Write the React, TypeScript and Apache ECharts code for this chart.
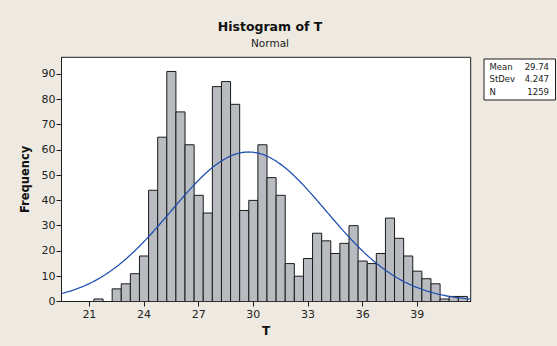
import React, { useEffect, useRef } from "react";
import * as echarts from "echarts";

// Bin midpoints of T (bin width 0.5) and their frequencies
const binMid = [
  21.5, 22, 22.5, 23, 23.5, 24, 24.5, 25, 25.5, 26, 26.5, 27, 27.5, 28, 28.5,
  29, 29.5, 30, 30.5, 31, 31.5, 32, 32.5, 33, 33.5, 34, 34.5, 35, 35.5, 36,
  36.5, 37, 37.5, 38, 38.5, 39, 39.5, 40, 40.5, 41, 41.5,
];
const freq = [
  1, 0, 5, 7, 11, 18, 44, 65, 91, 75, 62, 42, 35, 85, 87,
  78, 36, 40, 62, 49, 42, 15, 10, 17, 27, 24, 19, 23, 30, 16,
  15, 19, 33, 25, 18, 12, 9, 7, 1, 2, 2,
];
const binWidth = 0.5;

// Summary statistics of the sample
const statNames = ["Mean", "StDev", "N"];
const statTexts = ["29.74", "4.247", "1259"];
const mean = 29.74;
const stdev = 4.247;
const count = 1259;

// Axis ranges and tick labels
const xMin = 19.47;
const xMax = 41.93;
const xTicks = [21, 24, 27, 30, 33, 36, 39];
const yMax = 96.6;
const yTicks = [0, 10, 20, 30, 40, 50, 60, 70, 80, 90];

// Fitted normal curve scaled to the histogram's counts
function normalCurve(): number[][] {
  const pts: number[][] = [];
  const scale = (count * binWidth) / (stdev * Math.sqrt(2 * Math.PI));
  const steps = 300;
  for (let i = 0; i <= steps; i++) {
    const x = xMin + ((xMax - xMin) * i) / steps;
    const z = (x - mean) / stdev;
    pts.push([x, scale * Math.exp(-0.5 * z * z)]);
  }
  return pts;
}

const FONT = "DejaVu Sans";

export default function App() {
  const ref = useRef<HTMLDivElement>(null);

  useEffect(() => {
    if (!ref.current) return;
    const chart = echarts.init(ref.current, undefined, { renderer: "svg" });

    const bars = binMid
      .map((m, i) => [m, freq[i]])
      .filter((d) => d[1] > 0);

    chart.setOption({
      animation: false,
      backgroundColor: "#efeae1",
      title: {
        text: "Histogram of T",
        subtext: "Normal",
        left: 265,
        top: 15,
        textAlign: "center",
        itemGap: 4,
        textStyle: { fontFamily: FONT, fontSize: 12.5, fontWeight: "bold", color: "#111" },
        subtextStyle: { fontFamily: FONT, fontSize: 10.5, color: "#222" },
      },
      grid: {
        left: 61.5,
        right: 86.3,
        top: 57.3,
        bottom: 44.5,
        show: true,
        backgroundColor: "#ffffff",
        borderColor: "#1e1e1e",
        borderWidth: 1,
      },
      xAxis: {
        type: "value",
        min: xMin,
        max: xMax,
        name: "T",
        nameLocation: "middle",
        nameGap: 23,
        nameTextStyle: { fontFamily: FONT, fontSize: 12, fontWeight: "bold", color: "#111" },
        axisLine: { show: true, lineStyle: { color: "#1e1e1e", width: 1 } },
        axisTick: { show: true, length: 5, customValues: xTicks, lineStyle: { color: "#1e1e1e" } },
        axisLabel: {
          customValues: xTicks,
          margin: 7,
          fontFamily: FONT,
          fontSize: 11,
          color: "#222",
        },
        splitLine: { show: false },
      },
      yAxis: {
        type: "value",
        min: 0,
        max: yMax,
        name: "Frequency",
        nameLocation: "middle",
        nameGap: 31,
        nameTextStyle: { fontFamily: FONT, fontSize: 11.5, fontWeight: "bold", color: "#111" },
        axisLine: { show: true, lineStyle: { color: "#1e1e1e", width: 1 } },
        axisTick: { show: true, length: 5, customValues: yTicks, lineStyle: { color: "#1e1e1e" } },
        axisLabel: {
          customValues: yTicks,
          margin: 6,
          fontFamily: FONT,
          fontSize: 11,
          color: "#222",
        },
        splitLine: { show: false },
      },
      series: [
        {
          type: "custom",
          data: bars,
          encode: { x: 0, y: 1 },
          clip: true,
          z: 2,
          renderItem: (_params: any, api: any) => {
            const mid = api.value(0);
            const n = api.value(1);
            const p0 = api.coord([mid - binWidth / 2, n]);
            const p1 = api.coord([mid + binWidth / 2, 0]);
            return {
              type: "rect",
              shape: { x: p0[0], y: p0[1], width: p1[0] - p0[0], height: p1[1] - p0[1] },
              style: { fill: "#b8bcc1", stroke: "#1a1a1a", lineWidth: 1 },
            };
          },
        },
        {
          type: "line",
          data: normalCurve(),
          showSymbol: false,
          smooth: false,
          clip: true,
          z: 3,
          lineStyle: { color: "#1f50b0", width: 1.3 },
        },
      ],
      graphic: [
        {
          type: "group",
          left: 483.5,
          top: 58.5,
          children: [
            {
              type: "rect",
              shape: { x: 0, y: 0, width: 71.5, height: 41 },
              style: { fill: "#ffffff", stroke: "#1e1e1e", lineWidth: 1 },
            },
            ...statNames.map((s, i) => ({
              type: "text",
              x: 5.5,
              y: 7.5 + i * 12.8,
              style: {
                text: s,
                fontFamily: FONT,
                fontSize: 8.5,
                fill: "#222",
                textVerticalAlign: "middle",
              },
            })),
            ...statTexts.map((s, i) => ({
              type: "text",
              x: 65,
              y: 7.5 + i * 12.8,
              style: {
                text: s,
                fontFamily: FONT,
                fontSize: 8.5,
                fill: "#222",
                textAlign: "right",
                textVerticalAlign: "middle",
              },
            })),
          ],
        },
      ],
    });

    return () => chart.dispose();
  }, []);

  return (
    <div
      ref={ref}
      style={{ position: "absolute", left: 0, top: 0, width: 557, height: 346 }}
    />
  );
}
